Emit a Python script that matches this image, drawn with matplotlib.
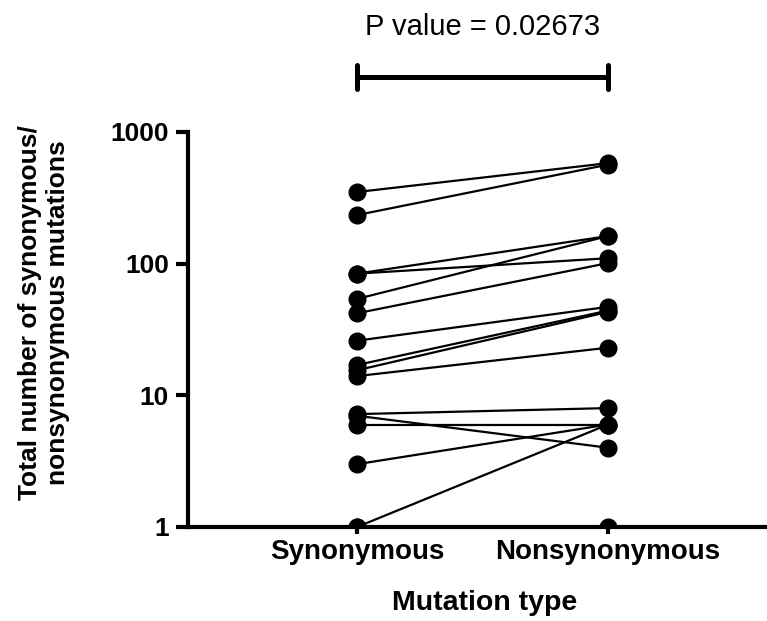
import matplotlib
matplotlib.use("Agg")
import matplotlib.pyplot as plt
import matplotlib.transforms as mtransforms
from matplotlib.ticker import FixedLocator, FixedFormatter, NullLocator

# ---- data ----
categories = ["Synonymous", "Nonsynonymous"]
synonymous = [350, 234, 84, 84, 54, 42, 26, 17, 15.5, 14, 7.2, 7, 6, 3, 1, 1]
nonsynonymous = [580, 565, 162, 110, 162, 101, 47, 44, 43, 23, 8, 4, 6, 6, 6, 1]
y_ticks = [1, 10, 100, 1000]
y_tick_labels = ["1", "10", "100", "1000"]
p_text = "P value = 0.02673"

plt.rcParams['font.family'] = ['Liberation Sans', 'DejaVu Sans']

W, H = 767, 621
fig = plt.figure(figsize=(W / 100, H / 100), dpi=100)

left_px, right_px = 188, 767
top_px, bottom_px = 132, 527
ax = fig.add_axes([left_px / W, 1 - bottom_px / H,
                   (right_px - left_px) / W, (bottom_px - top_px) / H])

xs = [0, 1]
for s, n in zip(synonymous, nonsynonymous):
    ax.plot(xs, [s, n], color='black', lw=1.6, zorder=2)
    ax.plot(xs, [s, n], 'o', color='black', ms=12, zorder=3)

ax.set_yscale('log')
ax.set_ylim(1, 1000)
# x positions: 357px -> 0, 608px -> 1
unit = 608 - 357
ax.set_xlim((left_px - 357) / unit, (right_px - 357) / unit)

ax.yaxis.set_major_locator(FixedLocator(y_ticks))
ax.yaxis.set_major_formatter(FixedFormatter(y_tick_labels))
ax.yaxis.set_minor_locator(NullLocator())
ax.set_xticks(xs)
ax.set_xticklabels(categories)

for sp in ['top', 'right']:
    ax.spines[sp].set_visible(False)
for sp in ['left', 'bottom']:
    ax.spines[sp].set_linewidth(3)
    ax.spines[sp].set_zorder(4)

ax.tick_params(axis='y', length=8.6, width=3, pad=5, labelsize=19)
ax.tick_params(axis='x', length=5, width=3, pad=3.5, labelsize=20)
for lab in ax.get_yticklabels() + ax.get_xticklabels():
    lab.set_fontweight('bold')

# axis labels
fig.text(485 / W, 1 - 610 / H, "Mutation type", ha='center', va='baseline',
         fontsize=20.5, fontweight='bold')
fig.text(44 / W, 1 - 313 / H, "Total number of synonymous/\nnonsynonymous mutations",
         rotation=90, ha='center', va='center', multialignment='center',
         fontsize=19, fontweight='bold', linespacing=1.25)

# significance bracket
tr = mtransforms.blended_transform_factory(ax.transData, fig.transFigure)
yb = 1 - 77 / H
ax.plot([0, 1], [yb, yb], transform=tr, color='black', lw=3.6, clip_on=False,
        solid_capstyle='butt')
for x in xs:
    ax.plot([x, x], [1 - 65 / H, 1 - 89 / H], transform=tr, color='black', lw=3.6,
            clip_on=False, solid_capstyle='round')
ax.text(0.5, 1 - 35 / H, p_text, transform=tr, ha='center', va='baseline',
        fontsize=21)

fig.savefig("out.png", dpi=100)
